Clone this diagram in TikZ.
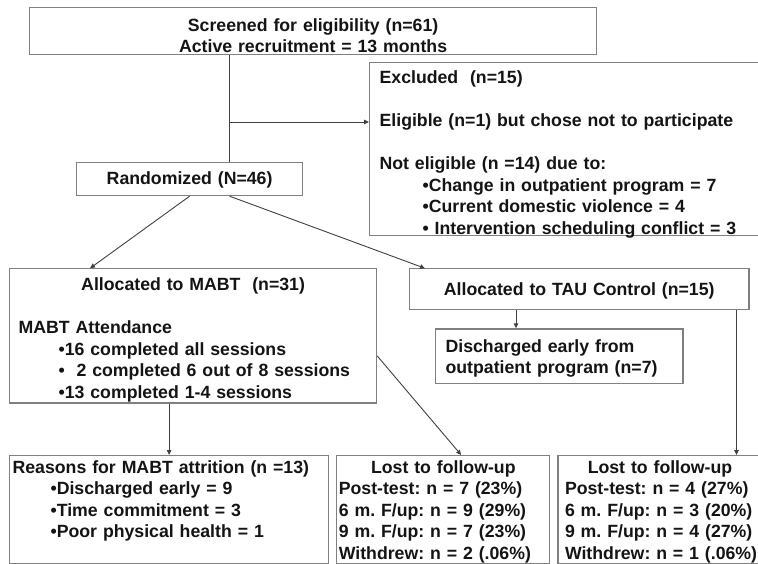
\documentclass[tikz,border=0pt]{standalone}
\usepackage{fontspec}
\setmainfont{Liberation Sans}
\usepackage{tikz}
\usetikzlibrary{arrows.meta, positioning}

\begin{document}
\begin{tikzpicture}[x=1pt, y=-1pt,
    % Define simple, standard styles
    box/.style={rectangle, draw=black!50, line width=1.2pt, anchor=north west, inner ysep=0pt, text=black!92, font=\fontsize{17.7}{21.5}\selectfont\bfseries\frenchspacing},
    ctrbox/.style={box, align=center},
    leftbox/.style={box, align=left},
    lowbox/.style={leftbox, text height=17.5pt, text depth=90.5pt},
    line/.style={line width=0.9pt, draw=black!75},
    arrow/.style={line, -{Triangle[length=5pt, width=4.5pt]}}
]
\useasboundingbox (0,0) rectangle (758,564);
\clip (0,0) rectangle (758,564);

% 1. Screening and exclusion
\node[ctrbox, inner xsep=5pt, text width=557pt, text height=23.4pt, text depth=23.6pt] (screen) at (29,7.3) {Screened for eligibility (n=61)\\Active recruitment = 13 months};
\node[leftbox, inner xsep=10pt, text width=381pt, text height=21.3pt, text depth=151.7pt] (excl) at (369,62) {Excluded\ \ (n=15)\\[21.5pt]
    Eligible (n=1) but chose not to participate\\[21.5pt]
    Not eligible (n =14) due to:\\
    \hspace*{43pt}•Change in outpatient program = 7\\
    \hspace*{43pt}•Current domestic violence = 4\\
    \hspace*{43pt}• Intervention scheduling conflict = 3};
\node[ctrbox, inner xsep=5pt, text width=216pt, text height=22.3pt, text depth=10.7pt] (rand) at (76,162) {Randomized (N=46)};

% 2. Allocation
\node[leftbox, inner xsep=9pt, text width=349pt, text height=21.7pt, text depth=112.3pt] (mabt) at (9,268.3) {\makebox[\linewidth]{Allocated to MABT\ \ (n=31)}\\[21.5pt]
    MABT Attendance\\
    \hspace*{40pt}•16 completed all sessions\\
    \hspace*{40pt}•\ \ 2 completed 6 out of 8 sessions\\
    \hspace*{40pt}•13 completed 1-4 sessions};
\node[ctrbox, inner xsep=5pt, text width=329.3pt, text height=26.7pt, text depth=14pt] (tau) at (409,268.3) {Allocated to TAU Control (n=15)};
\node[leftbox, inner xsep=10pt, text width=227.3pt, text height=23.4pt, text depth=31pt] (disch) at (435,328.3) {Discharged early from\\outpatient program (n=7)};

% 3. Attrition and follow-up
\node[lowbox, inner xsep=3pt, text width=313pt] (reasons) at (9,455) {Reasons for MABT attrition (n =13)\\
    \hspace*{38pt}•Discharged early = 9\\
    \hspace*{38pt}•Time commitment = 3\\
    \hspace*{38pt}•Poor physical health = 1};
\node[lowbox, inner xsep=2pt, text width=209pt, right=7pt of reasons] (lostmabt) {\makebox[\linewidth]{Lost to follow-up}\\
    Post-test: n = 7 (23\%)\\
    6 m. F/up: n = 9 (29\%)\\
    9 m. F/up: n = 7 (23\%)\\
    Withdrew: n = 2 (.06\%)};
\node[lowbox, inner xsep=7pt, text width=200pt, right=7pt of lostmabt] (losttau) {\makebox[190pt]{Lost to follow-up}\\
    Post-test: n = 4 (27\%)\\
    6 m. F/up: n = 3 (20\%)\\
    9 m. F/up: n = 4 (27\%)\\
    Withdrew: n = 1 (.06\%)};

% Draw the connecting lines and arrows
\coordinate (trunk) at (229,122);
\coordinate (taudrop) at ([xshift=107pt]tau.south west);
\coordinate (tauright) at ([xshift=-13pt]tau.south east);
\draw[line] (screen.south -| trunk) -- (rand.north -| trunk);
\draw[arrow] (trunk) -- (trunk -| excl.west);
\draw[arrow] (rand.south) -- ([xshift=81pt]mabt.north west);
\draw[arrow] ([xshift=40pt]rand.south) -- ([xshift=16pt]tau.north west);
\draw[arrow] (taudrop) -- (taudrop |- disch.north);
\draw[arrow] (tauright) -- (tauright |- losttau.north);
\draw[arrow] (mabt.south -| reasons.north) -- (reasons.north);
\draw[arrow] ([yshift=-20pt]mabt.east) -- ([xshift=125pt]lostmabt.north west);

\end{tikzpicture}
\end{document}
